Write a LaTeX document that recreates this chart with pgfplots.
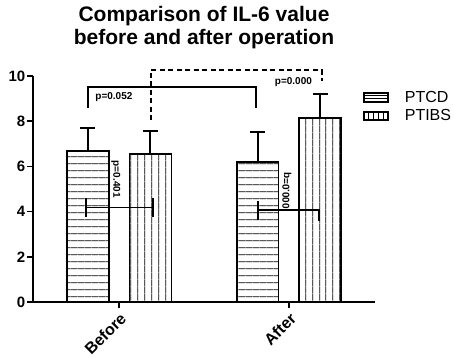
\documentclass[border=0pt]{standalone}
\usepackage{fontspec}
\setmainfont{Liberation Sans}
\usepackage{pgfplots}
\pgfplotsset{compat=1.18}
\usetikzlibrary{patterns.meta}

\begin{document}
\begin{tikzpicture}
\begin{axis}[
  at={(0,0)}, anchor=south west,
  scale only axis, width=342bp, height=226bp,
  xmin=-0.506, xmax=1.506, ymin=0, ymax=10,
  axis x line*=bottom, axis y line*=left,
  axis line style={line width=1.9bp, -},
  xtick={0,1}, xticklabels={Before,After},
  ytick={0,2,4,6,8,10},
  tick style={line width=1.6bp, black},
  tick align=outside, major tick length=6bp,
  xticklabel style={rotate=45, anchor=north east, font=\fontsize{16bp}{16bp}\selectfont\bfseries, inner sep=2.5bp},
  yticklabel style={font=\fontsize{15bp}{15bp}\selectfont\bfseries, inner sep=1.5bp},
  /pgf/number format/assume math mode=true,
  clip=false,
  title={Comparison of IL-6 value\\before and after operation},
  title style={at={(0.5,1)}, anchor=south, align=center, inner sep=0pt, yshift=21bp,
    font=\fontsize{21bp}{23bp}\selectfont\bfseries},
  legend style={draw=none, fill=none, inner sep=0pt, at={(0.965,0.935)}, anchor=north west,
    row sep=6bp, column sep=16bp, nodes={inner sep=0pt, font=\fontsize{16bp}{16bp}\selectfont}},
  legend cell align=left,
]
\addlegendimage{legend image code/.code={
  \draw[line width=1.6bp] (0bp,-4.5bp) rectangle (24bp,4.5bp);
  \draw[line width=0.9bp] (0bp,-1.5bp)--(24bp,-1.5bp) (0bp,1.5bp)--(24bp,1.5bp);}}
\addlegendentry{PTCD}
\addlegendimage{legend image code/.code={
  \draw[line width=1.6bp] (0bp,-4bp) rectangle (24bp,4bp);
  \draw[line width=0.9bp] (4.8bp,-4bp)--(4.8bp,4bp) (9.6bp,-4bp)--(9.6bp,4bp) (14.4bp,-4bp)--(14.4bp,4bp) (19.2bp,-4bp)--(19.2bp,4bp);}}
\addlegendentry{PTIBS}

% PTCD bars
\addplot[forget plot, ybar, bar width=0.247, bar shift=0, draw=black, line width=1.9bp,
  pattern={Lines[angle=0, distance=6.8bp, line width=0.7bp]}]
  coordinates {(-0.185,6.70) (0.815,6.21)};
% PTIBS bars
\addplot[forget plot, ybar, bar width=0.247, bar shift=0, draw=black, line width=1.9bp,
  pattern={Lines[angle=90, distance=6.8bp, line width=0.7bp]}]
  coordinates {(0.185,6.54) (1.185,8.13)};
% error bars (mean + SD)
\addplot[forget plot, draw=none, mark=none,
  error bars/.cd, y dir=plus, y explicit, error mark=|,
  error bar style={draw=black, solid, line width=2bp},
  error mark options={draw=black, solid, line width=2bp, mark size=7.5bp}]
  coordinates {(-0.185,6.70) +- (0,0.98) (0.815,6.21) +- (0,1.32)
               (0.185,6.54) +- (0,1.04) (1.185,8.13) +- (0,1.08)};

% horizontal comparison bars
\addplot[forget plot, black, line width=1.8bp] coordinates {(-0.194,4.18) (0.200,4.18)};
\addplot[forget plot, black, line width=1.8bp] coordinates {(-0.194,3.74) (-0.194,4.58)};
\addplot[forget plot, black, line width=1.8bp] coordinates {(0.200,3.74) (0.200,4.62)};
\addplot[forget plot, black, line width=1.8bp] coordinates {(0.818,4.06) (1.176,4.06)};
\addplot[forget plot, black, line width=1.8bp] coordinates {(0.818,3.62) (0.818,4.46)};
\addplot[forget plot, black, line width=1.8bp] coordinates {(1.176,3.60) (1.176,4.12)};

% brackets
\addplot[forget plot, black, line width=1.8bp] coordinates {(-0.182,8.58) (-0.182,9.50) (0.806,9.50) (0.806,8.58)};
\addplot[forget plot, black, line width=1.8bp, dash pattern=on 5bp off 3.5bp] coordinates {(0.186,8.05) (0.186,10.27) (1.192,10.27) (1.192,9.80)};

\node[font=\fontsize{10bp}{10bp}\selectfont\bfseries, rotate=-90] at (axis cs:-0.018,5.43) {p=0.401};
\node[font=\fontsize{10bp}{10bp}\selectfont\bfseries, rotate=-90, yscale=-1] at (axis cs:0.988,4.93) {p=0.000};
\node[font=\fontsize{10bp}{10bp}\selectfont\bfseries] at (axis cs:-0.03,9.07) {p=0.052};
\node[font=\fontsize{10bp}{10bp}\selectfont\bfseries] at (axis cs:1.026,9.73) {p=0.000};
\end{axis}
\pgfresetboundingbox
\path[use as bounding box] (-33bp,-56bp) rectangle (421bp,302bp);
\end{tikzpicture}
\end{document}
